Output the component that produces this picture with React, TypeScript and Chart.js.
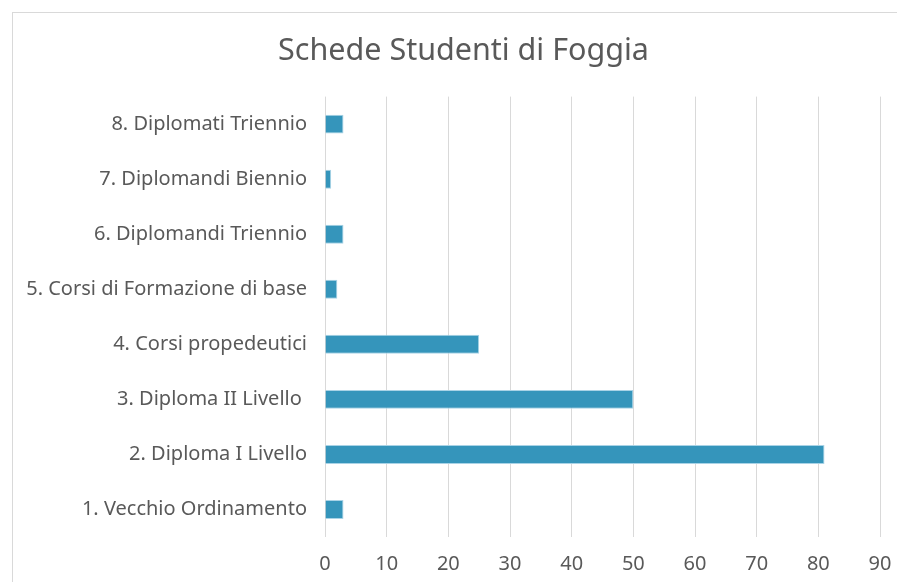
import React, { useEffect, useRef } from "react";
import { Chart, registerables } from "chart.js";

Chart.register(...registerables);

const TITLE = "Schede Studenti di Foggia";
const categories = [
  "8. Diplomati Triennio",
  "7. Diplomandi Biennio",
  "6. Diplomandi Triennio",
  "5. Corsi di Formazione di base",
  "4. Corsi propedeutici",
  "3. Diploma II Livello ",
  "2. Diploma I Livello",
  "1. Vecchio Ordinamento",
];
const values = [3, 1, 3, 2, 25, 50, 81, 3];
const xMin = 0;
const xMax = 90;
const xStep = 10;

const FONT = "'Noto Sans', sans-serif";
const TEXT = "#595959";

const titleCenterPlugin = {
  id: "titleCenter",
  afterLayout(chart: any) {
    const t = chart.titleBlock;
    if (t) {
      t.left = 12;
      t.right = 915;
      t.width = 903;
    }
  },
};

export default function App() {
  const ref = useRef<HTMLCanvasElement | null>(null);
  useEffect(() => {
    const ctx = ref.current!;
    const chart = new Chart(ctx, {
      type: "bar",
      data: {
        labels: categories,
        datasets: [
          {
            data: values,
            backgroundColor: "#3595bb",
            borderColor: "#a9d3e6",
            borderWidth: 1,
            categoryPercentage: 1,
            barPercentage: 0.345,
          },
        ],
      },
      options: {
        indexAxis: "y",
        animation: false,
        responsive: false,
        layout: { padding: { left: 0, right: 17, top: 0, bottom: 0 } },
        plugins: {
          legend: { display: false },
          tooltip: { enabled: false },
          title: {
            display: true,
            text: TITLE,
            color: TEXT,
            font: { family: FONT, size: 30.5, weight: "normal" },
            padding: { top: 33, bottom: 27 },
          },
        },
        scales: {
          x: {
            min: xMin,
            max: xMax,
            border: { display: false },
            grid: { color: "#d9d9d9", lineWidth: 1, drawTicks: false },
            ticks: {
              stepSize: xStep,
              color: TEXT,
              font: { family: FONT, size: 20 },
              padding: 15,
            },
            afterFit: (s: any) => {
              s.paddingLeft = 0;
              s.paddingRight = 0;
              s.height = 45;
            },
          },
          y: {
            border: { display: false },
            grid: { display: false, drawTicks: false },
            ticks: {
              color: TEXT,
              font: { family: FONT, size: 20 },
              padding: 18,
            },
            afterFit: (s: any) => {
              s.width = 325;
            },
          },
        },
      },
      plugins: [titleCenterPlugin],
    });
    return () => chart.destroy();
  }, []);
  return (
    <div style={{ position: "fixed", left: 0, top: 0, width: 897, height: 582, overflow: "hidden", background: "#fff" }}>
      <div
        style={{
          position: "absolute",
          left: 12,
          top: 12,
          width: 1000,
          height: 1000,
          border: "1px solid #d9d9d9",
          boxSizing: "border-box",
        }}
      />
      <canvas ref={ref} width={897} height={582} style={{ position: "absolute", left: 0, top: 0 }} />
    </div>
  );
}
